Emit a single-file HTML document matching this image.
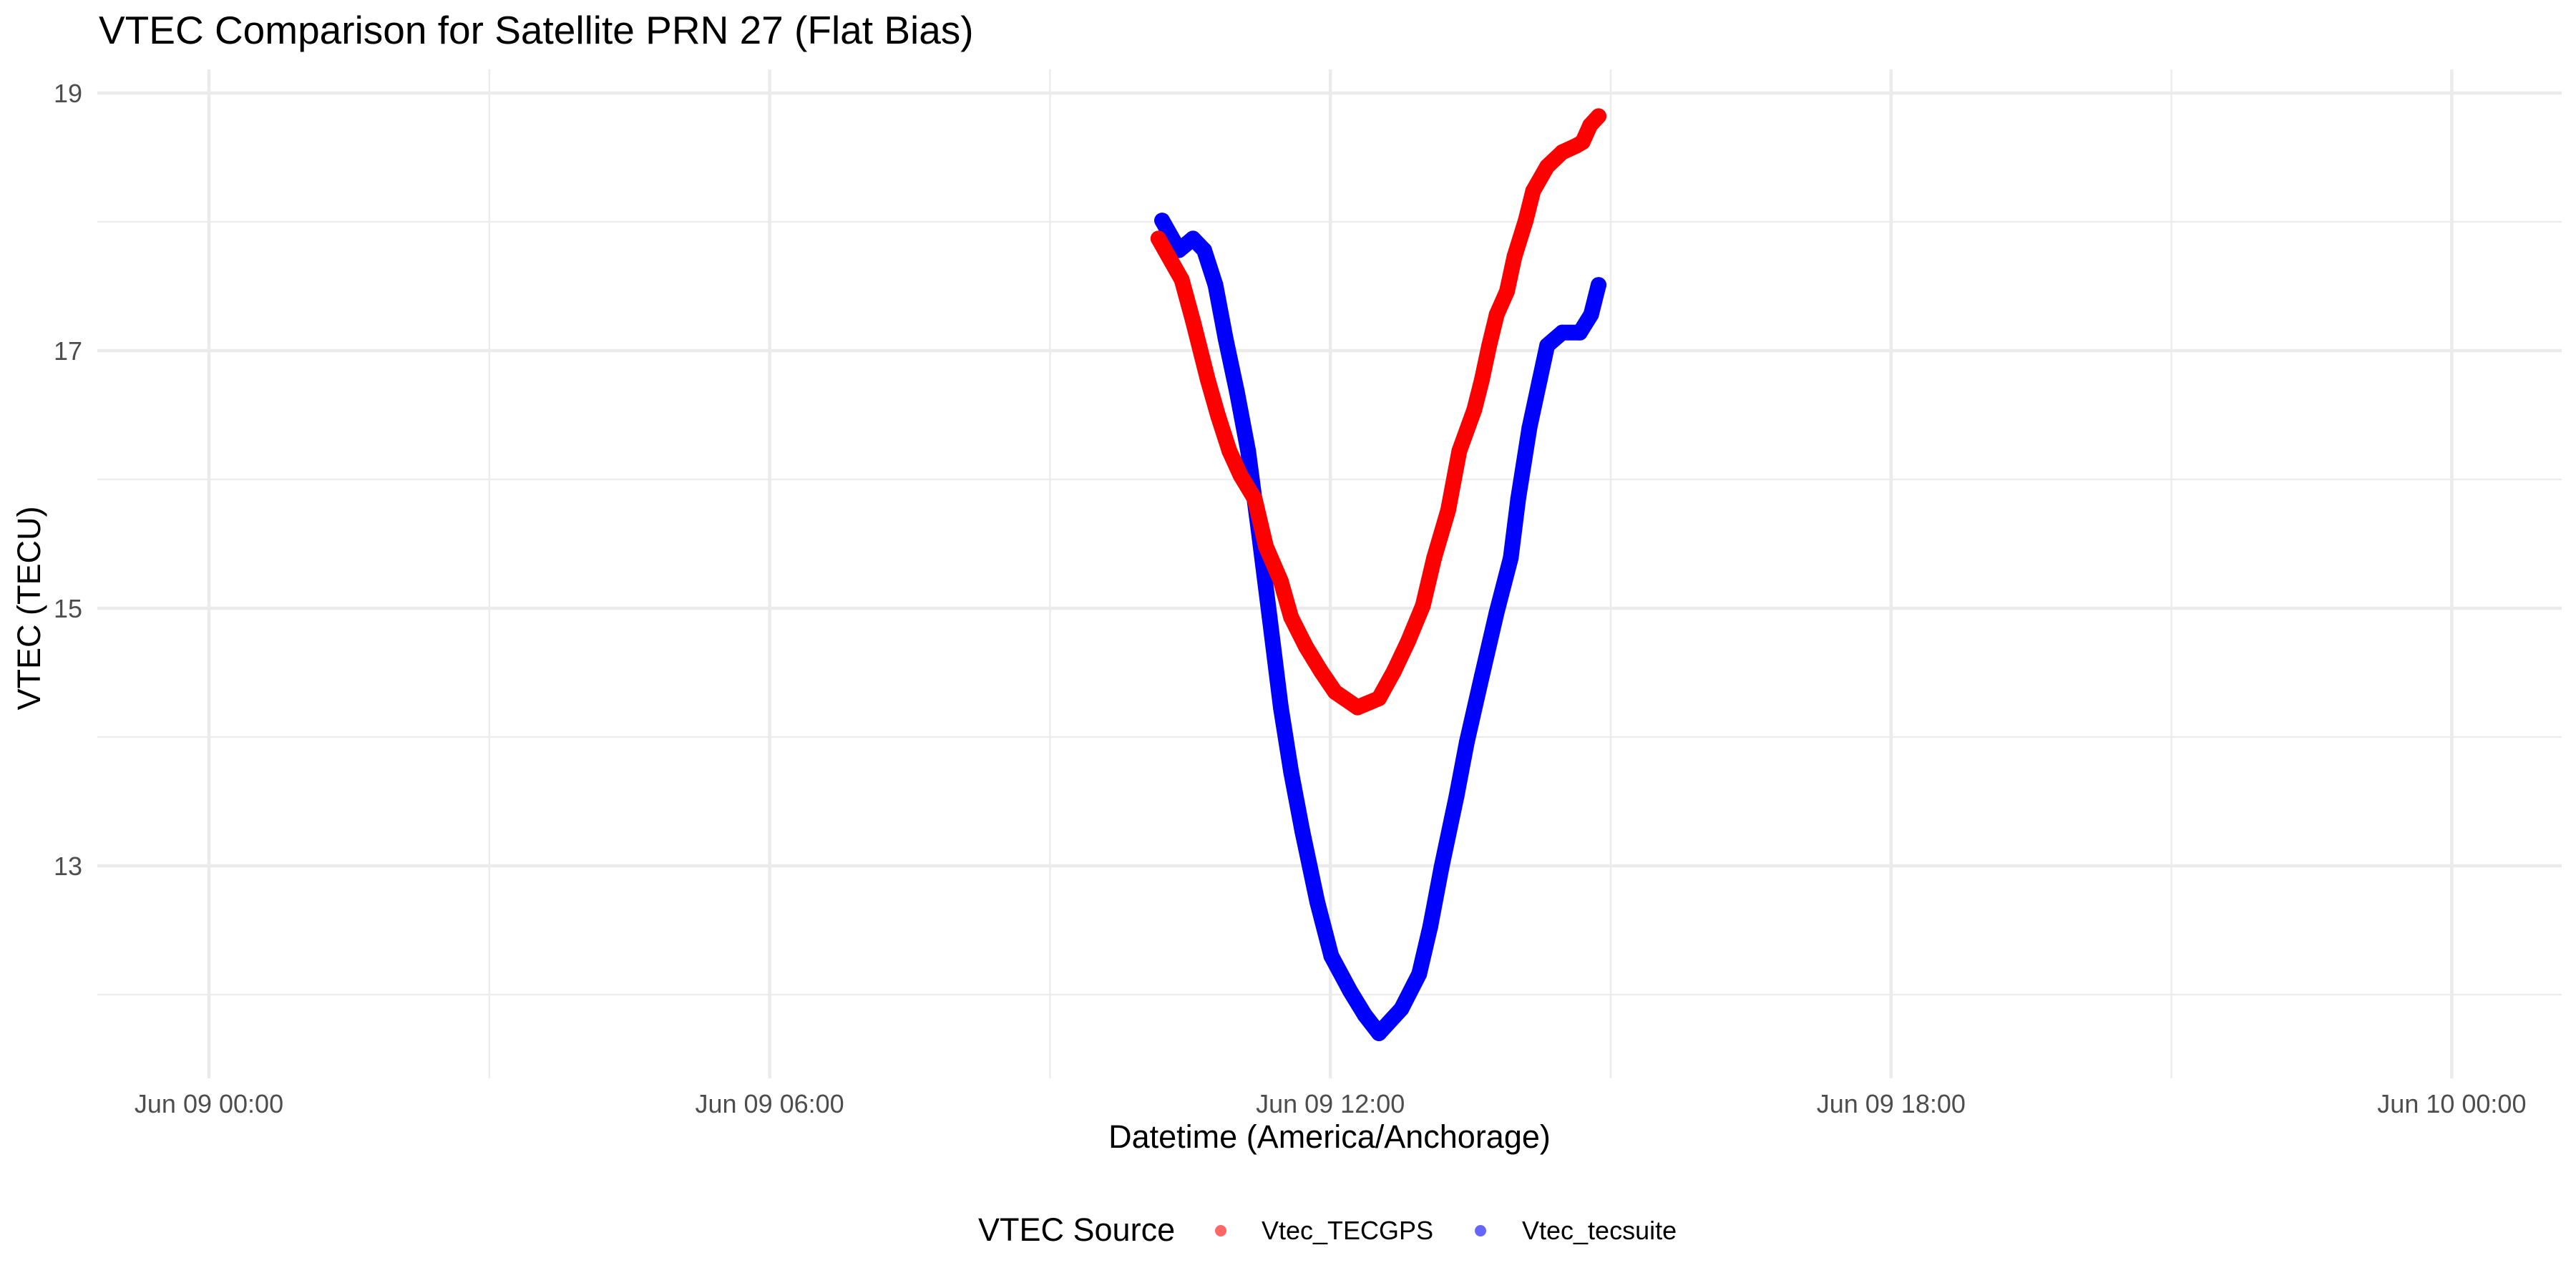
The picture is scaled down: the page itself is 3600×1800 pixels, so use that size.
<!DOCTYPE html>
<html><head><meta charset="utf-8"><style>
html,body{margin:0;padding:0;background:#fff;}
svg{display:block;font-family:"Liberation Sans",Arial,sans-serif;}
</style></head><body>
<svg id="chart" width="3600" height="1800" viewBox="0 0 3600 1800" xmlns="http://www.w3.org/2000/svg">
<rect width="3600" height="1800" fill="#fff"/>
<text x="138" y="61" font-size="55" fill="#000">VTEC Comparison for Satellite PRN 27 (Flat Bias)</text>
<g id="grid"></g>
<g id="ylabels"></g>
<g id="xlabels"></g>
<g id="series"></g>
<text x="1858" y="1604" font-size="45" text-anchor="middle" fill="#000">Datetime (America/Anchorage)</text>
<text transform="translate(56,850) rotate(-90)" font-size="45" text-anchor="middle" fill="#000">VTEC (TECU)</text>
<g>
<text x="1367" y="1734" font-size="45" fill="#000">VTEC Source</text>
<circle cx="1706" cy="1720" r="8" fill="#ff0000" fill-opacity="0.6"/>
<text x="1763" y="1732" font-size="36" fill="#000">Vtec_TECGPS</text>
<circle cx="2069" cy="1720" r="8" fill="#0000ff" fill-opacity="0.6"/>
<text x="2127" y="1732" font-size="36" fill="#000">Vtec_tecsuite</text>
</g>
</svg>
<script>
const xTickHours = [0, 6, 12, 18, 24];
const xTickLabels = ["Jun 09 00:00", "Jun 09 06:00", "Jun 09 12:00", "Jun 09 18:00", "Jun 10 00:00"];
const xMinorHours = [3, 9, 15, 21];
const yTicks = [13, 15, 17, 19];
const yMinor = [12, 14, 16, 18];
const redHours = [10.16,10.41,10.53,10.69,10.80,10.92,11.04,11.19,11.31,11.47,11.58,11.74,11.90,12.05,12.29,12.52,12.68,12.83,12.99,13.11,13.26,13.38,13.54,13.62,13.70,13.78,13.89,13.97,14.09,14.17,14.32,14.48,14.63,14.70,14.78,14.87];
const redValues = [17.87,17.55,17.23,16.77,16.49,16.22,16.03,15.85,15.48,15.21,14.93,14.70,14.51,14.35,14.23,14.30,14.51,14.74,15.02,15.39,15.76,16.22,16.54,16.77,17.04,17.28,17.46,17.73,18.01,18.24,18.43,18.54,18.59,18.62,18.75,18.82];
const blueHours = [10.20,10.38,10.53,10.65,10.77,10.88,11.00,11.12,11.23,11.35,11.47,11.58,11.70,11.86,12.01,12.21,12.37,12.52,12.76,12.95,13.07,13.19,13.35,13.46,13.62,13.78,13.93,14.01,14.13,14.24,14.32,14.48,14.67,14.79,14.87];
const blueValues = [18.01,17.78,17.87,17.78,17.51,17.09,16.68,16.22,15.62,14.93,14.23,13.73,13.27,12.72,12.30,12.03,11.84,11.70,11.89,12.16,12.53,12.99,13.54,13.96,14.47,14.97,15.39,15.85,16.40,16.77,17.04,17.14,17.14,17.28,17.51];

const NS = "http://www.w3.org/2000/svg";
const PL = 136, PR = 3580, PT = 97, PB = 1507;
function xScale(h){ return 292 + h * 130.6; }
function yScale(v){ return 130 + (19 - v) * 180; }
function mk(tag, attrs, parent){
  const e = document.createElementNS(NS, tag);
  for (const k in attrs) e.setAttribute(k, attrs[k]);
  parent.appendChild(e); return e;
}
const grid = document.getElementById('grid');
yMinor.forEach(v => {
  const l = mk('line', {x1:PL, x2:PR, y1:yScale(v), y2:yScale(v), stroke:'#ebebeb', 'stroke-width':2.3}, grid);
  
  
});
xMinorHours.forEach(h => {
  const l = mk('line', {x1:xScale(h), x2:xScale(h), y1:PT, y2:PB, stroke:'#ebebeb', 'stroke-width':2.3}, grid);
  
  
});
yTicks.forEach(v => {
  const l = mk('line', {x1:PL, x2:PR, y1:yScale(v), y2:yScale(v), stroke:'#ebebeb', 'stroke-width':4.5}, grid);
  
  
  const t = mk('text', {x:115, y:yScale(v)+13, 'font-size':36, fill:'#4d4d4d', 'text-anchor':'end'}, document.getElementById('ylabels'));
  t.textContent = v;
  
  
});
xTickHours.forEach((h, i) => {
  const l = mk('line', {x1:xScale(h), x2:xScale(h), y1:PT, y2:PB, stroke:'#ebebeb', 'stroke-width':4.5}, grid);
  
  
  const t = mk('text', {x:xScale(h), y:1555, 'font-size':36, fill:'#4d4d4d', 'text-anchor':'middle'}, document.getElementById('xlabels'));
  t.textContent = xTickLabels[i];
  
  
});
const series = document.getElementById('series');
function drawSeries(hours, vals, color, name){
  const pts = hours.map((h, i) => xScale(h).toFixed(1) + ',' + yScale(vals[i]).toFixed(1)).join(' ');
  const p = mk('polyline', {points:pts, fill:'none', stroke:color, 'stroke-width':22, 'stroke-linejoin':'round', 'stroke-linecap':'round'}, series);
  
  
  hours.forEach((h, i) => {
    const c = mk('circle', {cx:xScale(h), cy:yScale(vals[i]), r:11, fill:color}, series);
    
    
  });
}
drawSeries(blueHours, blueValues, '#0000ff', 'vtec-tecsuite');
drawSeries(redHours, redValues, '#ff0000', 'vtec-tecgps');
</script>
</body></html>
